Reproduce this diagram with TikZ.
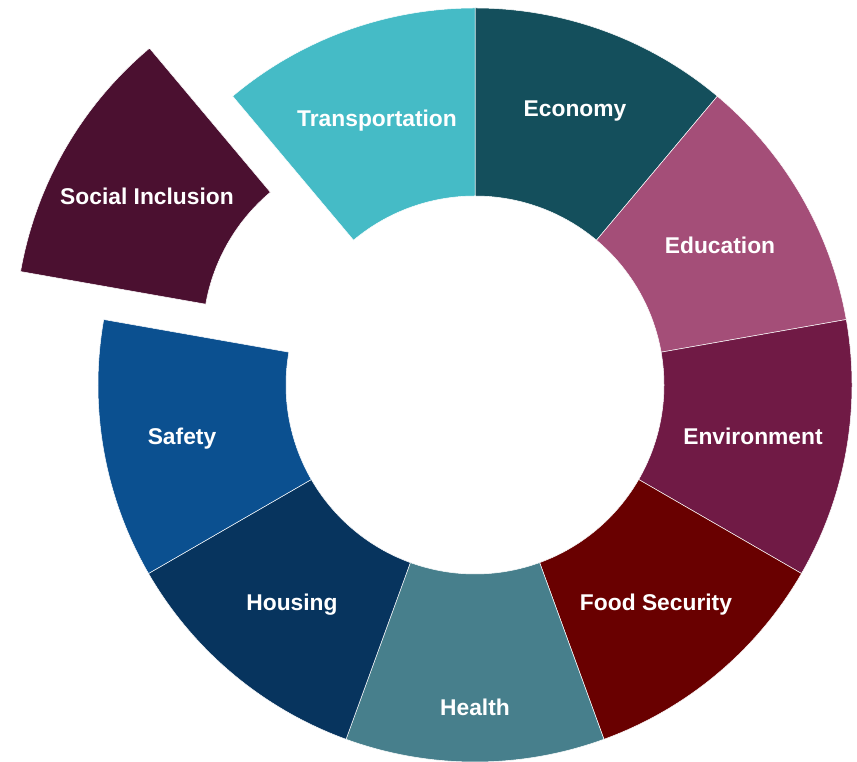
\documentclass[tikz,border=0pt]{standalone}
\usepackage{fontspec}
\setmainfont{Liberation Sans}
\usetikzlibrary{calc}
\definecolor{cEco}{HTML}{144F5C}
\definecolor{cEdu}{HTML}{A44E78}
\definecolor{cEnv}{HTML}{701A45}
\definecolor{cFood}{HTML}{690000}
\definecolor{cHealth}{HTML}{477F8C}
\definecolor{cHousing}{HTML}{07345E}
\definecolor{cSafety}{HTML}{0B5090}
\definecolor{cSocial}{HTML}{4B1030}
\definecolor{cTrans}{HTML}{45BBC6}
\begin{document}
\begin{tikzpicture}[x=1pt,y=1pt,
  lbl/.style={text=white,font=\fontsize{22.8}{27}\selectfont\bfseries},
  seg/.style={draw=white,line width=0.5pt}]
\useasboundingbox (0,0) rectangle (857,762);
\coordinate (c) at (475,377);
\foreach \a/\b/\col in {50/90/cEco, 10/50/cEdu, -30/10/cEnv, -70/-30/cFood, -110/-70/cHealth, -150/-110/cHousing, 170/210/cSafety, 90/130/cTrans} {
  \path[fill=\col, seg] ($(c)+(\a:377)$) arc[start angle=\a, end angle=\b, radius=377]
    -- ($(c)+(\b:189)$) arc[start angle=\b, end angle=\a, radius=189] -- cycle;
}
\coordinate (c2) at ($(c)+(150:96)$);
\path[fill=cSocial, seg] ($(c2)+(130:377)$) arc[start angle=130, end angle=170, radius=377]
    -- ($(c2)+(170:189)$) arc[start angle=170, end angle=130, radius=189] -- cycle;
\node[lbl] (eco) at (575,651) {Economy};
\node[lbl] (edu) at (720,517) {Education};
\node[lbl] (env) at (753,326) {Environment};
\node[lbl] (food) at (656,157) {Food Security};
\node[lbl] (health) at (475,55) {Health};
\node[lbl] (housing) at (292,157) {Housing};
\node[lbl] (safety) at (182,323) {Safety};
\node[lbl] (social) at (147,566) {Social Inclusion};
\node[lbl] (trans) at (377,641) {Transportation};
\end{tikzpicture}
\end{document}
